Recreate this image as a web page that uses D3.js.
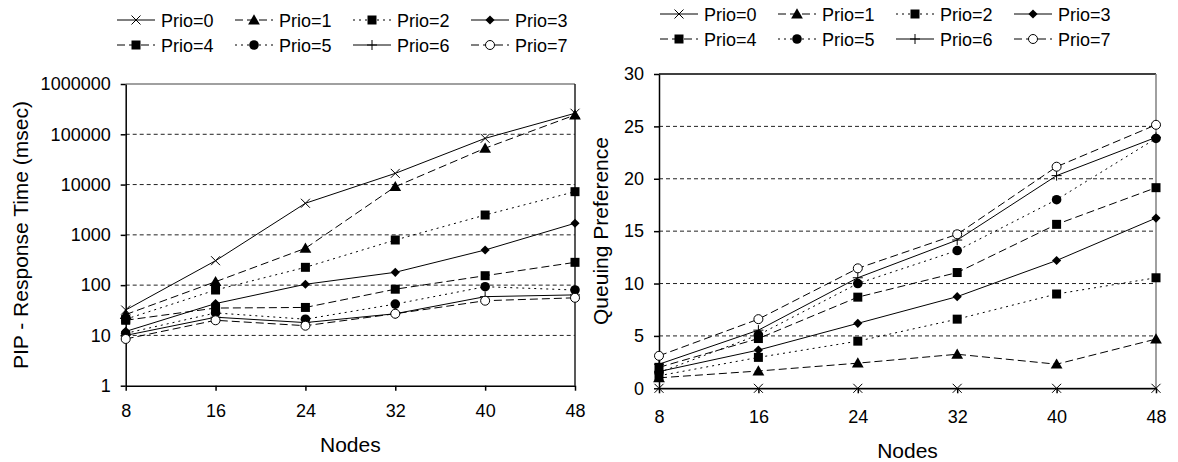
<!DOCTYPE html>
<html>
<head>
<meta charset="utf-8">
<script src="https://cdn.jsdelivr.net/npm/d3@7"></script>
<style>
  body { margin: 0; background: #fff; }
  svg { display: block; font-family: "Liberation Sans", Arial, sans-serif; }
</style>
</head>
<body>
<svg id="chart" width="1178" height="462"></svg>
<script>
// node counts on the x axis
const nodes = [8, 16, 24, 32, 40, 48];
const prioNames = ["Prio=0", "Prio=1", "Prio=2", "Prio=3", "Prio=4", "Prio=5", "Prio=6", "Prio=7"];

// PIP response time (msec), log scale
const resp0 = [32, 306, 4250, 16700, 83000, 262000];
const resp1 = [26, 117, 540, 9080, 52800, 242000];
const resp2 = [21, 80, 226, 790, 2480, 7220];
const resp3 = [12, 43, 104, 180, 500, 1700];
const resp4 = [20, 35, 36, 83, 154, 284];
const resp5 = [11, 28, 21, 42, 93, 80];
const resp6 = [10, 23, 18, 27, 59, 64];
const resp7 = [8.5, 20, 15.6, 27, 49, 56];

// queuing preference
const queue0 = [0, 0, 0, 0, 0, 0];
const queue1 = [1.0, 1.65, 2.4, 3.25, 2.3, 4.7];
const queue2 = [1.2, 2.95, 4.5, 6.6, 9.0, 10.55];
const queue3 = [1.6, 3.65, 6.2, 8.75, 12.2, 16.25];
const queue4 = [2.0, 4.75, 8.7, 11.05, 15.65, 19.15];
const queue5 = [1.5, 5.1, 10.0, 13.15, 18.0, 23.85];
const queue6 = [2.3, 5.55, 10.55, 14.15, 20.3, 23.95];
const queue7 = [3.1, 6.6, 11.45, 14.7, 21.15, 25.15];

const respTicks = [1, 10, 100, 1000, 10000, 100000, 1000000];
const queueTicks = [0, 5, 10, 15, 20, 25, 30];

// line style + marker per priority
const dashes = [null, "8,4", "2,4", null, "8,4", "2,4", null, "8,4"];
const markers = ["x", "triangle", "square", "diamond", "square", "circle", "plus", "ocircle"];

const svg = d3.select("#chart");

function drawMarker(g, type, cx, cy) {
  const m = g.append("g").attr("transform", "translate(" + cx + "," + cy + ")");
  if (type === "x") {
    m.append("path").attr("d", "M-4.5,-4.5L4.5,4.5M-4.5,4.5L4.5,-4.5")
      .attr("stroke", "#000").attr("stroke-width", 1).attr("fill", "none");
  } else if (type === "plus") {
    m.append("path").attr("d", "M-5,0L5,0M0,-5L0,5")
      .attr("stroke", "#000").attr("stroke-width", 1).attr("fill", "none");
  } else if (type === "ocircle") {
    m.append("circle").attr("r", 4.5).attr("fill", "#fff").attr("stroke", "#000").attr("stroke-width", 1);
  } else if (type === "circle") {
    m.append("circle").attr("r", 4.8).attr("fill", "#000");
  } else if (type === "square") {
    m.append("path").attr("d", d3.symbol(d3.symbolSquare, 81)()).attr("fill", "#000");
  } else if (type === "diamond") {
    m.append("path").attr("d", d3.symbol(d3.symbolSquare, 42)()).attr("fill", "#000")
      .attr("transform", "rotate(45)");
  } else if (type === "triangle") {
    m.append("path").attr("d", d3.symbol(d3.symbolTriangle, 60)()).attr("fill", "#000")
      .attr("transform", "translate(0,1)");
  }
}

function drawPanel(cfg) {
  const g = svg.append("g");
  const x = d3.scaleLinear().domain([8, 48]).range([cfg.x0, cfg.x1]);
  const y = cfg.y;
  const yTop = y.range()[1], yBot = y.range()[0];

  // dashed gridlines
  g.selectAll(".grid").data(cfg.ticks.slice(1, -1)).enter().append("line")
    .attr("x1", cfg.x0).attr("x2", cfg.x1)
    .attr("y1", d => y(d)).attr("y2", d => y(d))
    .attr("stroke", "#222").attr("stroke-width", 1).attr("stroke-dasharray", "4,3");

  // frame (top + right)
  g.append("line").attr("x1", cfg.x0).attr("x2", cfg.x1).attr("y1", yTop).attr("y2", yTop)
    .attr("stroke", cfg.topColor).attr("stroke-width", 1.5);
  g.append("line").attr("x1", cfg.x1).attr("x2", cfg.x1).attr("y1", yTop).attr("y2", yBot)
    .attr("stroke", cfg.rightColor).attr("stroke-width", 1.5);

  // axes
  const yAxis = g.append("g").attr("transform", "translate(" + cfg.x0 + ",0)")
    .call(d3.axisLeft(y).tickValues(cfg.ticks).tickFormat(d3.format("d")).tickSize(5).tickPadding(10).tickSizeOuter(0));
  const xAxis = g.append("g").attr("transform", "translate(0," + yBot + ")")
    .call(d3.axisBottom(x).tickValues(nodes).tickSize(5).tickPadding(cfg.xPad).tickSizeOuter(0));
  [yAxis, xAxis].forEach(a => {
    a.selectAll("path, line").attr("stroke", "#000").attr("stroke-width", 1.5);
    a.selectAll("text").attr("font-size", 18).attr("font-family", "Liberation Sans, Arial").attr("fill", "#000");
  });

  // series lines
  const line = d3.line().x((d, i) => x(nodes[i])).y(d => y(d));
  cfg.series.forEach((s, k) => {
    g.append("path").datum(s)
      .attr("d", line)
      .attr("fill", "none").attr("stroke", "#000").attr("stroke-width", 1)
      .attr("stroke-dasharray", dashes[k]);
  });
  // markers on top
  cfg.series.forEach((s, k) => {
    s.forEach((v, i) => drawMarker(g, markers[k], x(nodes[i]), y(v)));
  });

  // axis titles
  g.append("text").attr("x", (cfg.x0 + cfg.x1) / 2).attr("y", cfg.xTitleY)
    .attr("text-anchor", "middle").attr("font-size", 21).text("Nodes");
  g.append("text")
    .attr("transform", "translate(" + cfg.yTitleX + "," + cfg.yTitleMid + ") rotate(-90)")
    .attr("text-anchor", "middle").attr("font-size", 21).text(cfg.yTitle);

  // legend, 2 rows of 4
  prioNames.forEach((name, k) => {
    const col = k % 4, row = Math.floor(k / 4);
    const lx = cfg.legX + col * 118, ly = cfg.legY + row * 25;
    g.append("line").attr("x1", lx).attr("x2", lx + 38).attr("y1", ly).attr("y2", ly)
      .attr("stroke", "#000").attr("stroke-width", 1).attr("stroke-dasharray", dashes[k]);
    drawMarker(g, markers[k], lx + 19, ly);
    g.append("text").attr("x", lx + 44).attr("y", ly + 6.5)
      .attr("font-size", 18).text(name);
  });
}

drawPanel({
  x0: 125.7, x1: 575,
  y: d3.scaleLog().domain([1, 1000000]).range([385.7, 84]),
  ticks: respTicks,
  series: [resp0, resp1, resp2, resp3, resp4, resp5, resp6, resp7],
  topColor: "#808080", rightColor: "#222",
  xPad: 14, xTitleY: 452,
  yTitle: "PIP - Response Time (msec)", yTitleX: 28, yTitleMid: 235,
  legX: 117, legY: 20
});

drawPanel({
  x0: 659, x1: 1156,
  y: d3.scaleLinear().domain([0, 30]).range([388.3, 74]),
  ticks: queueTicks,
  series: [queue0, queue1, queue2, queue3, queue4, queue5, queue6, queue7],
  topColor: "#000", rightColor: "#808080",
  xPad: 17, xTitleY: 458,
  yTitle: "Queuing Preference", yTitleX: 608, yTitleMid: 231,
  legX: 660, legY: 14
});
</script>
</body>
</html>
